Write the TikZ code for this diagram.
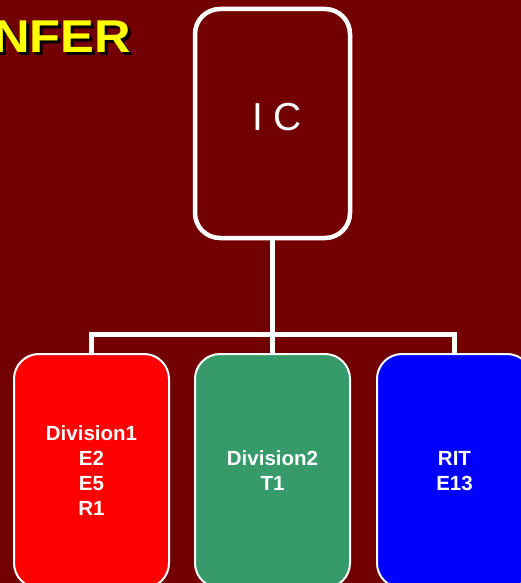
\documentclass[tikz,border=0pt]{standalone}
\usepackage{fontspec}
\setmainfont{Liberation Sans}
\definecolor{bgred}{HTML}{730000}
\definecolor{boxred}{HTML}{FF0000}
\definecolor{boxgreen}{HTML}{369A6A}
\definecolor{boxblue}{HTML}{0000FF}
\definecolor{titleyellow}{HTML}{FFFF00}
\tikzset{
  topbox/.style={draw=white, line width=4.5pt, rounded corners=25pt, minimum width=155pt, minimum height=229pt, inner sep=0pt, outer sep=0pt, text=white, font=\fontsize{39}{44}\selectfont},
  unitbox/.style={draw=white, line width=2pt, rounded corners=25pt, minimum width=155pt, minimum height=234pt, inner sep=0pt, outer sep=0pt, text=white, align=center, font=\bfseries\fontsize{20.5}{25}\selectfont},
  titletext/.style={anchor=base west, inner sep=0pt, font=\bfseries\fontsize{46}{50}\selectfont},
  conn/.style={draw=white, line width=5pt}
}
\begin{document}
\begin{tikzpicture}[x=1pt,y=-1pt]
\useasboundingbox (0,0) rectangle (521,583);
\clip (0,0) rectangle (521,583);
\fill[bgred] (0,0) rectangle (521,583);
% title
\node[titletext, text=black] (titleshadow) at (-4,56) {\scalebox{1.1}[1]{NFER}};
\node[titletext, text=titleyellow] (title) at (-7,53) {\scalebox{1.1}[1]{NFER}};
% top box
\node[topbox] (ic) at (272.5,123.5) {};
\node[text=white, font=\fontsize{39}{44}\selectfont, inner sep=0pt, anchor=base] (ictext) at (277,130) {I C};
% lower boxes
\node[unitbox, fill=boxred] (d1) at (91.5,471) {Division1\\E2\\E5\\R1};
\node[unitbox, fill=boxgreen] (d2) at (272.5,471) {Division2\\T1};
\node[unitbox, fill=boxblue] (d3) at (454.5,471) {RIT\\E13};
\coordinate (bar) at (272.5,334);
% connectors
\draw[conn] (ic.south) -- (d2.north);
\draw[conn] (d1.north) |- (bar) -| (d3.north);
\end{tikzpicture}
\end{document}
